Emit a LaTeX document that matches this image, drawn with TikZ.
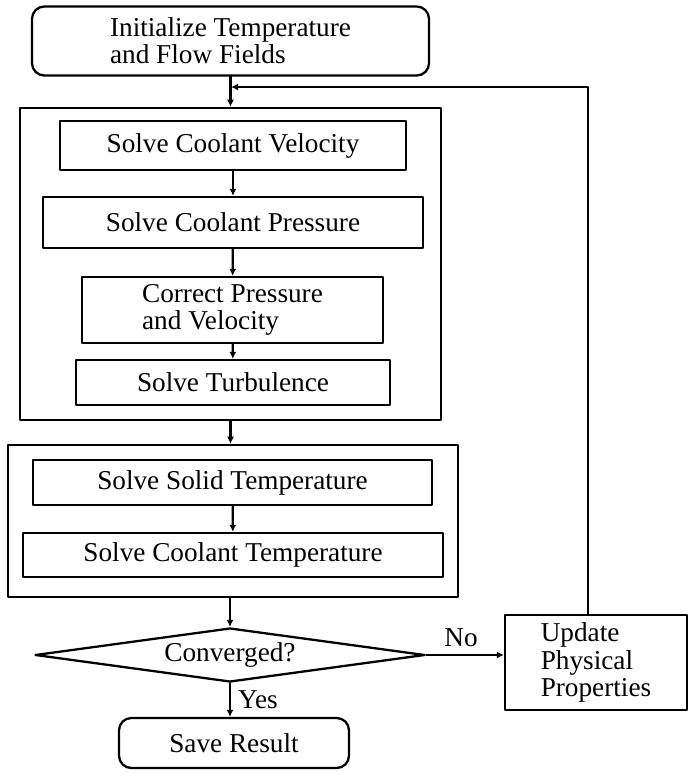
\documentclass[tikz,border=0pt]{standalone}
\usepackage{fontspec}
\setmainfont{Liberation Serif}
\usepackage{tikz}
\usetikzlibrary{arrows.meta,calc,positioning,shapes.geometric}
\newcommand{\flowfont}{\fontsize{15.5}{15.4}\selectfont}
\tikzset{
  blk/.style={rectangle, draw, line width=1.3pt, inner sep=1pt, font=\flowfont},
  rnd/.style={blk, rounded corners=7pt},
  grp/.style={rectangle, draw, line width=1.4pt, inner sep=0pt},
  dec/.style={diamond, aspect=7.2, draw, line width=1.3pt, inner sep=0pt, font=\flowfont},
  arr/.style={-{Latex[length=4pt,width=4pt]}, line width=1.3pt},
  lbl/.style={font=\flowfont, inner sep=1pt},
  every picture/.style={line cap=round, line join=round}
}
\begin{document}
\begin{tikzpicture}
  \useasboundingbox (0,0) rectangle (14,-15.52);
  \node[rnd, minimum width=7.94cm, minimum height=1.38cm, align=left] (init) at (4.61,-0.82)
    {Initialize Temperature\\and Flow Fields};
  % fluid loop
  \node[grp, minimum width=8.42cm, minimum height=6.24cm] (flow) at (4.61,-5.28) {};
  \node[blk, minimum width=6.92cm, minimum height=0.98cm] (vel) at (4.66,-2.91) {Solve Coolant Velocity};
  \node[blk, minimum width=7.6cm, minimum height=1.02cm] (pres) at (4.66,-4.45) {Solve Coolant Pressure};
  \node[blk, minimum width=6.02cm, minimum height=1.32cm, align=left] (corr) at (4.65,-6.2)
    {Correct Pressure\\and Velocity};
  \node[blk, minimum width=6.28cm, minimum height=0.9cm] (turb) at (4.66,-7.65) {Solve Turbulence};
  % heat loop
  \node[grp, minimum width=9.0cm, minimum height=3.04cm] (heat) at (4.66,-10.42) {};
  \node[blk, minimum width=7.98cm, minimum height=0.9cm] (solid) at (4.65,-9.65) {Solve Solid Temperature};
  \node[blk, minimum width=8.4cm, minimum height=0.88cm] (coolt) at (4.66,-11.1) {Solve Coolant Temperature};
  \node[dec, minimum width=7.8cm, minimum height=1.08cm] (conv) at (4.6,-13.1) {Converged?};
  \node[blk, minimum width=3.64cm, minimum height=1.9cm, align=left] (upd) at (11.92,-13.25)
    {Update\\Physical\\Properties};
  \node[rnd, minimum width=4.6cm, minimum height=1.0cm] (save) at (4.68,-14.86) {Save Result};
  \coordinate (join) at (4.62,-1.74);

  \draw[arr] (init.south) -- (init.south |- flow.north);
  \draw[arr] (vel) -- (pres);
  \draw[arr] (pres) -- (corr);
  \draw[arr] (corr) -- (turb);
  \draw[arr] (flow.south) -- (flow.south |- heat.north);
  \draw[arr] (solid) -- (coolt);
  \draw[arr] (heat.south -| conv.north) -- (conv.north);
  \draw[arr] (conv.south) -- node[lbl, right=3pt] {Yes} (conv.south |- save.north);
  \draw[arr] (conv.east) -- node[lbl, above=3pt, pos=0.45] {No} (conv.east -| upd.west);
  \draw[arr] ([xshift=-0.16cm]upd.north) |- (join);
\end{tikzpicture}
\end{document}
